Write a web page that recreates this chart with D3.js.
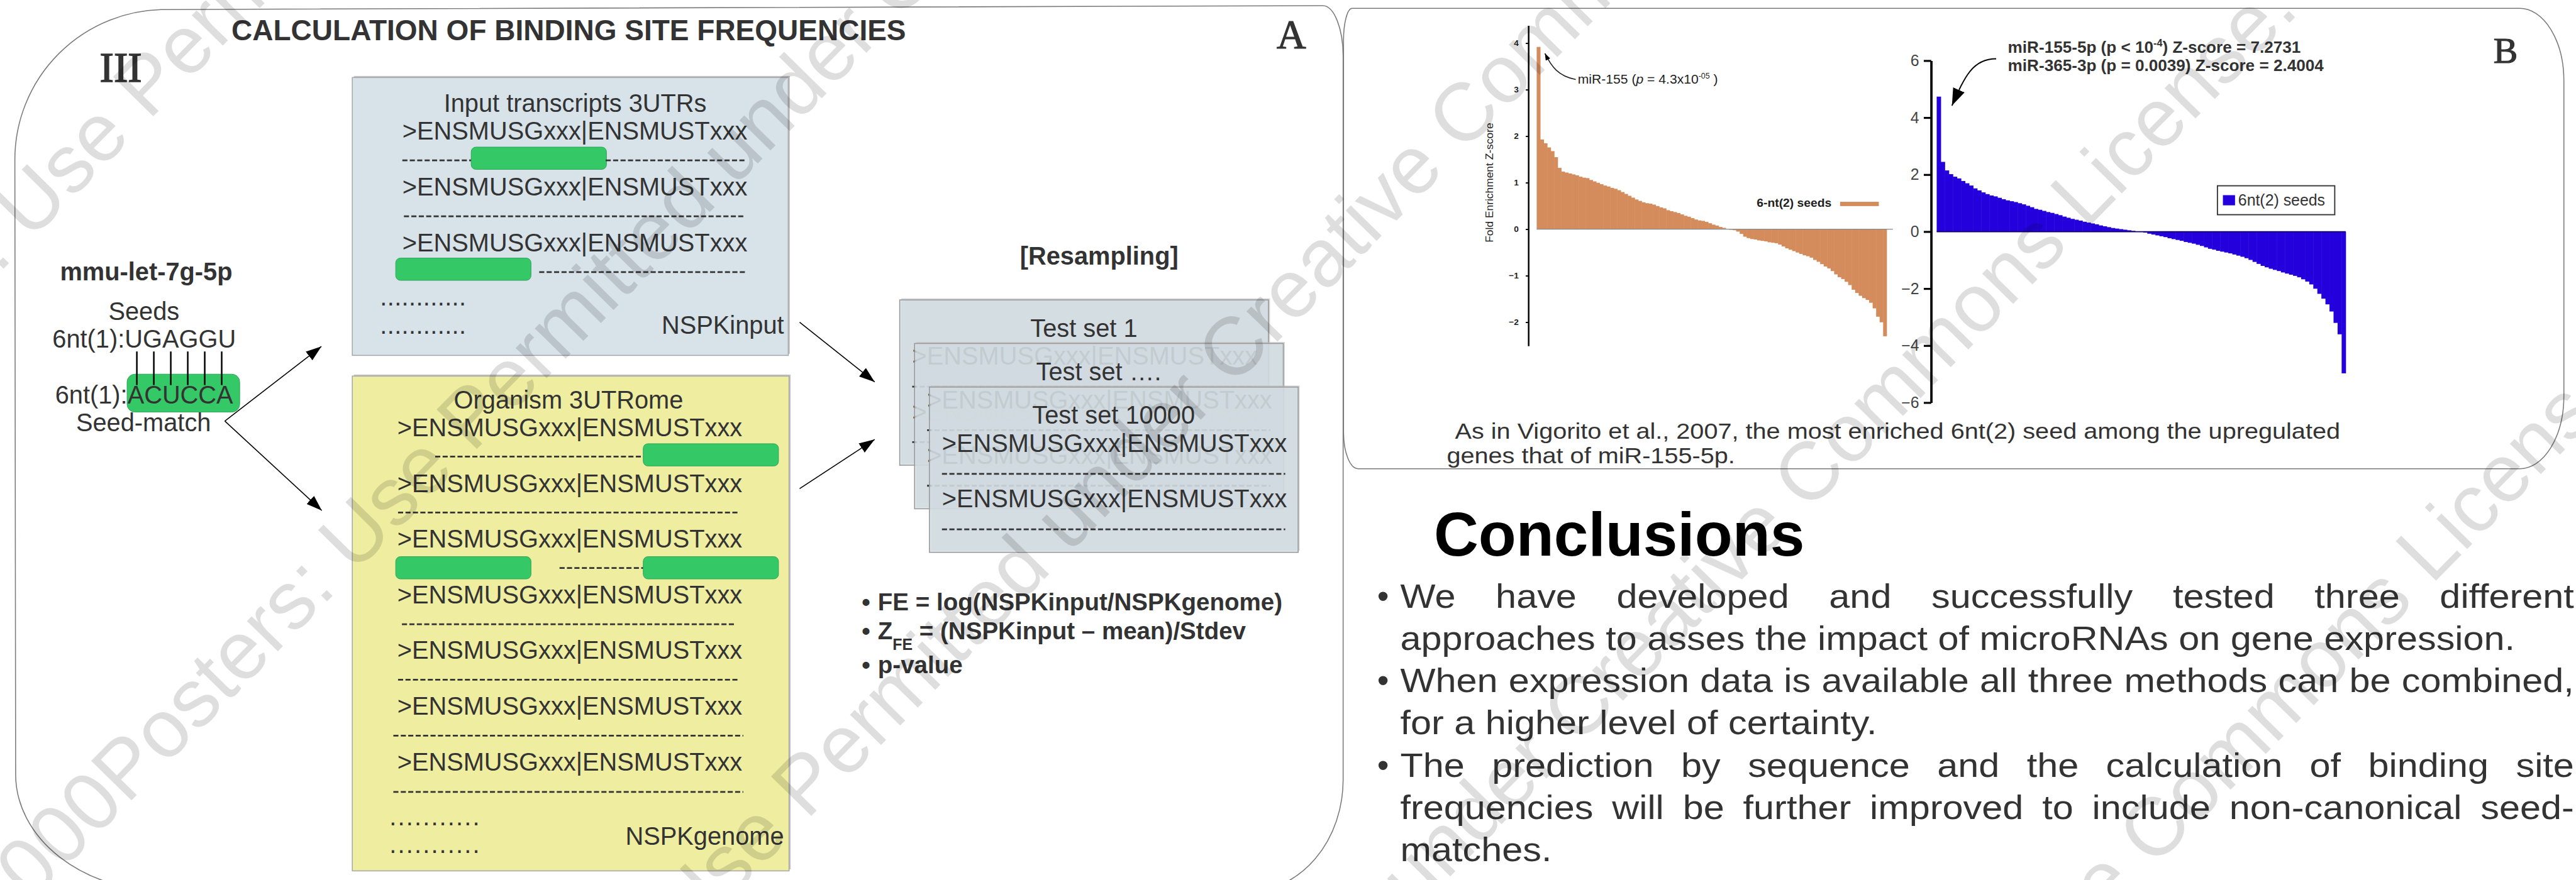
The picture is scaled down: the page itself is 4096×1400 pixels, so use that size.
<!DOCTYPE html>
<html>
<head>
<meta charset="utf-8">
<script src="https://cdn.jsdelivr.net/npm/d3@7"></script>
<style>
html, body { margin: 0; padding: 0; background: #fff; }
svg { display: block; }
text { font-family: "Liberation Sans", Arial, sans-serif; fill: #333; }
</style>
</head>
<body>
<div id="chart"></div>
<script>
// ---- data ----
// orange: fold enrichment z-score per seed, sorted (left chart)
var orangeZ = [3.92,1.93,1.85,1.76,1.68,1.55,1.32,1.24,1.22,1.2,
  1.18,1.16,1.13,1.11,1.1,1.06,1.03,1.0,0.97,0.94,
  0.92,0.89,0.87,0.84,0.8,0.76,0.72,0.68,0.64,0.61,
  0.58,0.56,0.55,0.53,0.5,0.47,0.45,0.41,0.39,0.37,
  0.35,0.32,0.29,0.27,0.24,0.21,0.19,0.18,0.16,0.13,
  0.1,0.08,0.05,0.03,0.01,-0.01,-0.02,-0.05,-0.1,-0.16,
  -0.19,-0.21,-0.22,-0.24,-0.25,-0.26,-0.28,-0.29,-0.3,-0.33,
  -0.37,-0.41,-0.44,-0.47,-0.5,-0.53,-0.56,-0.58,-0.61,-0.66,
  -0.7,-0.75,-0.8,-0.84,-0.9,-0.97,-1.03,-1.07,-1.13,-1.2,
  -1.3,-1.37,-1.43,-1.48,-1.52,-1.58,-1.7,-1.88,-2.0,-2.3]
// blue: z-score per 6nt(2) seed, sorted (right chart)
var blueZ = [4.74,2.45,2.15,2.02,1.93,1.87,1.78,1.7,1.62,1.52,
  1.45,1.38,1.32,1.27,1.24,1.19,1.14,1.1,1.07,1.04,
  1.0,0.96,0.91,0.86,0.8,0.77,0.73,0.69,0.66,0.62,
  0.58,0.53,0.49,0.45,0.42,0.39,0.35,0.32,0.29,0.26,
  0.22,0.19,0.16,0.13,0.11,0.09,0.07,0.05,0.03,0.01,
  -0.01,-0.03,-0.07,-0.1,-0.13,-0.16,-0.19,-0.23,-0.26,-0.29,
  -0.32,-0.36,-0.39,-0.42,-0.46,-0.5,-0.55,-0.6,-0.63,-0.67,
  -0.7,-0.73,-0.76,-0.8,-0.84,-0.88,-0.93,-0.99,-1.06,-1.13,
  -1.2,-1.25,-1.3,-1.34,-1.38,-1.43,-1.47,-1.51,-1.55,-1.6,
  -1.67,-1.75,-1.85,-2.0,-2.18,-2.35,-2.55,-2.8,-3.2,-3.6,-4.97]
var orangeTicks = [-2, -1, 0, 1, 2, 3, 4]
var blueTicks = [-6, -4, -2, 0, 2, 4, 6]

var entryLabel = '>ENSMUSGxxx|ENSMUSTxxx'
var testSets = ['Test set 1', 'Test set \u2026.', 'Test set 10000']
var seedLetters = ['U', 'G', 'A', 'G', 'G', 'U']
var captionLines = ['As in Vigorito et al., 2007, the most enriched 6nt(2) seed among the upregulated',
                    'genes that of miR-155-5p.']
var conclusionLines = [
  {text: 'We have developed and successfully tested three different', bullet: true, justify: true},
  {text: 'approaches to asses the impact of microRNAs on gene expression.', bullet: false, justify: false},
  {text: 'When expression data is available all three methods can be combined,', bullet: true, justify: true},
  {text: 'for a higher level of certainty.', bullet: false, justify: false},
  {text: 'The prediction by sequence and the calculation of binding site', bullet: true, justify: true},
  {text: 'frequencies will be further improved to include non-canonical seed-', bullet: false, justify: true},
  {text: 'matches.', bullet: false, justify: false}
]
var wmText = '2000Posters: Use Permitted under Creative Commons License.'

// ---- svg, drawn in the reference's own pixel space ----
var svg = d3.select('#chart').append('svg')
    .attr('width', 4096).attr('height', 1400)
    .attr('viewBox', '0 0 6588 2251')

var defs = svg.append('defs')
function marker(id, w, h) {
    defs.append('marker').attr('id', id)
        .attr('viewBox', '0 0 ' + w + ' ' + h)
        .attr('markerUnits', 'userSpaceOnUse')
        .attr('markerWidth', w).attr('markerHeight', h)
        .attr('refX', w).attr('refY', h / 2)
        .attr('orient', 'auto')
        .append('path').attr('d', 'M0,0L' + w + ',' + (h / 2) + 'L0,' + h + 'Z').attr('fill', '#000')
}
marker('arrowFlow', 40, 28)
marker('arrowBlue', 44, 32)
marker('arrowSmall', 18, 13)

// panel frames
svg.append('path')
    .attr('d', 'M423,24 L3383,14 A52,130 0 0 1 3435,144 L3435,1995 A244,286 0 0 1 3191,2281 L427,2281 A387,300 0 0 1 40,1981 L38,408 A385,384 0 0 1 423,24 Z')
    .attr('fill', 'none').attr('stroke', '#7a7a7a').attr('stroke-width', 2.5)
svg.append('path')
    .attr('d', 'M3458,21 L6444,21 A113,186 0 0 1 6557,207 L6557,1013 A113,186 0 0 1 6444,1199 L3473,1199 A37,94 0 0 1 3436,1105 L3436,103 A22,82 0 0 1 3458,21 Z')
    .attr('fill', 'none').attr('stroke', '#7a7a7a').attr('stroke-width', 2.5)

// headings
svg.append('text').attr('x', 592).attr('y', 103)
    .style('font-size', '74px').style('font-weight', 'bold')
    .text('CALCULATION OF BINDING SITE FREQUENCIES')
svg.append('text').attr('x', 255).attr('y', 208)
    .style('font-family', '"Liberation Serif", "Times New Roman", serif').style('font-size', '108px')
    .attr('stroke', '#333').attr('stroke-width', 2.5)
    .text('III')
svg.append('text').attr('x', 3265).attr('y', 123)
    .style('font-family', '"Liberation Serif", "Times New Roman", serif').style('font-size', '104px')
    .attr('stroke', '#333').attr('stroke-width', 2)
    .text('A')
svg.append('text').attr('x', 6377).attr('y', 161)
    .style('font-family', '"Liberation Serif", "Times New Roman", serif').style('font-size', '93px')
    .attr('stroke', '#333').attr('stroke-width', 2)
    .text('B')

// ---- seeds block ----
var seeds = svg.append('g').style('font-size', '64px')
seeds.append('text').attr('x', 374).attr('y', 717).attr('text-anchor', 'middle')
    .style('font-weight', 'bold').text('mmu-let-7g-5p')
seeds.append('text').attr('x', 368).attr('y', 819).attr('text-anchor', 'middle').text('Seeds')
seeds.append('text').attr('x', 134).attr('y', 889).text('6nt(1):' + seedLetters.join(''))
seeds.append('rect').attr('x', 325).attr('y', 957).attr('width', 288).attr('height', 97)
    .attr('rx', 20).attr('fill', '#34c866').attr('stroke', '#2aa055').attr('stroke-width', 1.5)
seeds.selectAll('line.pair').data(seedLetters).join('line').attr('class', 'pair')
    .attr('x1', function(d, i) { return 350 + i * 43.4 })
    .attr('x2', function(d, i) { return 350 + i * 43.4 })
    .attr('y1', 899).attr('y2', 985)
    .attr('stroke', '#000').attr('stroke-width', 4)
seeds.append('text').attr('x', 141).attr('y', 1033).text('6nt(1):ACUCCA')
seeds.append('text').attr('x', 367).attr('y', 1103).attr('text-anchor', 'middle').text('Seed-match')

// flow arrows
var arrows = [[575, 1077, 822, 886], [575, 1077, 823, 1306], [2045, 824, 2237, 977], [2045, 1250, 2237, 1124]]
svg.selectAll('line.flow').data(arrows).join('line').attr('class', 'flow')
    .attr('x1', function(d) { return d[0] }).attr('y1', function(d) { return d[1] })
    .attr('x2', function(d) { return d[2] }).attr('y2', function(d) { return d[3] })
    .attr('stroke', '#000').attr('stroke-width', 2.5)
    .attr('marker-end', 'url(#arrowFlow)')

// ---- sequence boxes ----
function dash(g, x1, x2, y) {
    g.append('line').attr('x1', x1).attr('x2', x2).attr('y1', y).attr('y2', y)
        .attr('stroke', '#333').attr('stroke-width', 4.5).attr('stroke-dasharray', '13 6')
}
function site(g, x, y) {
    g.append('rect').attr('x', x).attr('y', y).attr('width', 346).attr('height', 57)
        .attr('rx', 12).attr('fill', '#34c866').attr('stroke', '#2aa055').attr('stroke-width', 1.5)
}
function dots(g, x, y, n, sp) {
    g.append('text').attr('x', x).attr('y', y).style('letter-spacing', sp + 'px')
        .text(d3.range(n).map(function() { return '.' }).join(''))
}

// input transcripts
var inp = svg.append('g').style('font-size', '64px')
inp.append('rect').attr('x', 905).attr('y', 194).attr('width', 1115).attr('height', 711).attr('fill', '#c4c4c4')
inp.append('rect').attr('x', 901).attr('y', 198).attr('width', 1115).attr('height', 711)
    .attr('fill', '#d7e2e9').attr('stroke', '#a8a8a8').attr('stroke-width', 2.5)
inp.append('text').attr('x', 1471).attr('y', 286).attr('text-anchor', 'middle').text('Input transcripts 3UTRs')
d3.range(3).forEach(function(i) {
    inp.append('text').attr('x', 1029).attr('y', 357 + i * 143).text(entryLabel)
})
dash(inp, 1029, 1205, 410); site(inp, 1205, 376); dash(inp, 1549, 1909, 410)
dash(inp, 1033, 1905, 553)
site(inp, 1012, 660); dash(inp, 1379, 1909, 696)
dots(inp, 972, 781, 12, 0.6); dots(inp, 972, 853, 12, 0.6)
inp.append('text').attr('x', 2005).attr('y', 853).attr('text-anchor', 'end').text('NSPKinput')

// organism 3'UTRome
var org = svg.append('g').style('font-size', '64px')
org.append('rect').attr('x', 905).attr('y', 958).attr('width', 1117).attr('height', 1266).attr('fill', '#c4c4c4')
org.append('rect').attr('x', 901).attr('y', 962).attr('width', 1117).attr('height', 1266)
    .attr('fill', '#eeeda0').attr('stroke', '#a8a8a8').attr('stroke-width', 2.5)
org.append('text').attr('x', 1454).attr('y', 1045).attr('text-anchor', 'middle').text('Organism 3UTRome')
d3.range(7).forEach(function(i) {
    org.append('text').attr('x', 1016).attr('y', 1116 + i * 142.5).text(entryLabel)
})
dash(org, 1113, 1645, 1168); site(org, 1645, 1135)
dash(org, 1018, 1890, 1311)
site(org, 1012, 1424); dash(org, 1431, 1645, 1453); site(org, 1645, 1424)
dash(org, 1028, 1878, 1597)
dash(org, 1018, 1890, 1739)
dash(org, 1006, 1901, 1882)
dash(org, 1006, 1901, 2026)
dots(org, 996, 2111, 11, 3.5); dots(org, 996, 2182, 11, 3.5)
org.append('text').attr('x', 2005).attr('y', 2161).attr('text-anchor', 'end').text('NSPKgenome')

// resampling
svg.append('text').attr('x', 2811).attr('y', 677).attr('text-anchor', 'middle')
    .style('font-size', '64px').style('font-weight', 'bold').text('[Resampling]')
testSets.forEach(function(name, i) {
    var x0 = 2301 + i * 38, y0 = 767 + i * 111.5
    var g = svg.append('g').attr('transform', 'translate(' + x0 + ',' + y0 + ')').style('font-size', '64px')
    g.append('rect').attr('x', 4).attr('y', -4).attr('width', 943).attr('height', 423).attr('fill', '#bdbdbd').attr('opacity', 0.6)
    g.append('rect').attr('width', 943).attr('height', 423)
        .attr('fill', '#d3dfe6').attr('fill-opacity', 0.78)
        .attr('stroke', '#999').attr('stroke-width', 2.5)
    g.append('text').attr('x', 471).attr('y', 94).attr('text-anchor', 'middle').text(name)
    g.append('text').attr('x', 32).attr('y', 166).text(entryLabel)
    dash(g, 32, 910, 222)
    g.append('text').attr('x', 32).attr('y', 308).text(entryLabel)
    dash(g, 32, 910, 364)
})

// formulas
var fm = svg.append('g').style('font-size', '62px').style('font-weight', 'bold')
;[1561, 1636, 1722].forEach(function(y) {
    fm.append('text').attr('x', 2204).attr('y', y).text('\u2022')
})
fm.append('text').attr('x', 2245).attr('y', 1561).text('FE = log(NSPKinput/NSPKgenome)')
var zt = fm.append('text').attr('x', 2245).attr('y', 1636)
zt.append('tspan').text('Z')
zt.append('tspan').attr('dy', 26).style('font-size', '40px').text('FE')
zt.append('tspan').attr('dy', -26).text(' = (NSPKinput \u2013 mean)/Stdev')
fm.append('text').attr('x', 2245).attr('y', 1722).text('p-value')

// ---- orange chart ----
var oy = d3.scaleLinear().domain([-2.51, 4.38]).range([885, 65])
var ox = d3.scaleBand().domain(d3.range(orangeZ.length)).range([3930, 4825]).padding(0)
svg.append('g').selectAll('rect').data(orangeZ).join('rect')
    .attr('x', function(d, i) { return ox(i) })
    .attr('width', ox.bandwidth() + 0.8)
    .attr('y', function(d) { return oy(Math.max(0, d)) })
    .attr('height', function(d) { return Math.abs(oy(d) - oy(0)) })
    .attr('fill', '#d58c5c')
svg.append('line').attr('x1', 3930).attr('x2', 4841).attr('y1', oy(0)).attr('y2', oy(0))
    .attr('stroke', '#8a8a8a').attr('stroke-width', 2)
var oAxis = svg.append('g').attr('transform', 'translate(3909,0)')
    .call(d3.axisLeft(oy).tickValues(orangeTicks).tickFormat(d3.format('d'))
        .tickSizeInner(7).tickSizeOuter(0).tickPadding(18))
oAxis.select('.domain').attr('stroke', '#000').attr('stroke-width', 4)
oAxis.selectAll('.tick line').attr('stroke', '#000').attr('stroke-width', 3)
oAxis.selectAll('.tick text').style('font-size', '22px').style('font-weight', 'bold').style('fill', '#222')
svg.append('text').attr('transform', 'translate(3818,467) rotate(-90)').attr('text-anchor', 'middle')
    .style('font-size', '28px').style('fill', '#222').text('Fold Enrichment Z-score')
svg.append('text').attr('x', 4684).attr('y', 528).attr('text-anchor', 'end')
    .style('font-size', '31px').style('font-weight', 'bold').style('fill', '#222').text('6-nt(2) seeds')
svg.append('rect').attr('x', 4706).attr('y', 516).attr('width', 99).attr('height', 11).attr('fill', '#d58c5c')
var oa = svg.append('text').attr('x', 4035).attr('y', 214).style('font-size', '34px').style('fill', '#222')
oa.append('tspan').text('miR-155 (')
oa.append('tspan').style('font-style', 'italic').text('p')
oa.append('tspan').text(' = 4.3x10')
oa.append('tspan').attr('dy', -14).style('font-size', '20px').text('-05')
oa.append('tspan').attr('dy', 14).text(' )')
svg.append('path').attr('d', 'M4030,203 C3985,195 3968,170 3951,136')
    .attr('fill', 'none').attr('stroke', '#222').attr('stroke-width', 2.5)
    .attr('marker-end', 'url(#arrowSmall)')

// ---- blue chart ----
var by = d3.scaleLinear().domain([-6, 6]).range([1030, 155])
var bx = d3.scaleBand().domain(d3.range(blueZ.length)).range([4953, 5999]).padding(0)
svg.append('g').selectAll('rect').data(blueZ).join('rect')
    .attr('x', function(d, i) { return bx(i) })
    .attr('width', bx.bandwidth() + 0.8)
    .attr('y', function(d) { return by(Math.max(0, d)) })
    .attr('height', function(d) { return Math.abs(by(d) - by(0)) })
    .attr('fill', '#2300dc')
svg.append('line').attr('x1', 4953).attr('x2', 5999).attr('y1', by(0)).attr('y2', by(0))
    .attr('stroke', '#140060').attr('stroke-width', 3)
var bAxis = svg.append('g').attr('transform', 'translate(4939,0)')
    .call(d3.axisLeft(by).tickValues(blueTicks).tickFormat(d3.format('d'))
        .tickSizeInner(19).tickSizeOuter(0).tickPadding(12))
bAxis.select('.domain').attr('stroke', '#000').attr('stroke-width', 6)
bAxis.selectAll('.tick line').attr('stroke', '#000').attr('stroke-width', 5)
bAxis.selectAll('.tick text').style('font-size', '40px').style('fill', '#444')
svg.append('rect').attr('x', 5671).attr('y', 475).attr('width', 300).attr('height', 74)
    .attr('fill', '#fff').attr('stroke', '#333').attr('stroke-width', 3)
svg.append('rect').attr('x', 5685).attr('y', 499).attr('width', 31).attr('height', 26).attr('fill', '#2300dc')
svg.append('text').attr('x', 5724).attr('y', 525).style('font-size', '40px').style('fill', '#333').text('6nt(2) seeds')
var ba = svg.append('g').style('font-size', '42px').style('font-weight', 'bold')
var b1 = ba.append('text').attr('x', 5135).attr('y', 134)
b1.append('tspan').text('miR-155-5p (p < 10')
b1.append('tspan').attr('dy', -16).style('font-size', '26px').text('-4')
b1.append('tspan').attr('dy', 16).text(') Z-score = 7.2731')
ba.append('text').attr('x', 5135).attr('y', 182).text('miR-365-3p (p = 0.0039)  Z-score = 2.4004')
svg.append('path').attr('d', 'M5105,150 C5045,150 5025,195 4992,270')
    .attr('fill', 'none').attr('stroke', '#000').attr('stroke-width', 3)
    .attr('marker-end', 'url(#arrowBlue)')

// caption under the charts, squeezed to the width it has in the picture
var cap = svg.append('g').style('font-size', '55px')
var capLine = cap.append('text').attr('x', 0).attr('y', 1122).text(captionLines[0])
var capScale = 2264 / capLine.node().getComputedTextLength()
cap.attr('transform', 'translate(3721,0) scale(' + capScale + ',1)')
cap.append('text').attr('x', -21 / capScale).attr('y', 1185).text(captionLines[1])

// ---- conclusions ----
svg.append('text').attr('x', 3667).attr('y', 1422)
    .style('font-size', '158px').style('font-weight', 'bold').style('fill', '#000').text('Conclusions')
var con = svg.append('g').style('font-size', '86px')
var probe = con.append('text').text(conclusionLines[1].text)
var conScale = 2851 / probe.node().getComputedTextLength()
probe.remove()
con.attr('transform', 'translate(3581,0) scale(' + conScale + ',1)')
var fullW = 3002 / conScale
conclusionLines.forEach(function(line, i) {
    var y = 1555 + i * 108
    if (line.bullet) {
        svg.append('text').attr('x', 3522).attr('y', y).style('font-size', '86px').text('\u2022')
    }
    if (!line.justify) {
        con.append('text').attr('x', 0).attr('y', y).text(line.text)
        return
    }
    var words = line.text.split(' ')
    var nodes = words.map(function(w) { return con.append('text').attr('y', y).text(w) })
    var widths = nodes.map(function(n) { return n.node().getComputedTextLength() })
    var gap = (fullW - d3.sum(widths)) / (words.length - 1)
    var x = 0
    nodes.forEach(function(n, k) { n.attr('x', x); x += widths[k] + gap })
})

// ---- watermark, diagonal rows on top of everything ----
var wmAngle = -45.5
var rad = wmAngle * Math.PI / 180
var dx = Math.cos(rad), dy = Math.sin(rad)
var nx = -dy, ny = dx
var wmRows = [[413, -1682], [1600, -1709], [2868, -1779], [4142, -1815], [5410, -1845]]
wmRows.forEach(function(r) {
    var N = r[0] + 75, P = r[1]
    var x = nx * N + dx * P, y = ny * N + dy * P
    svg.append('text')
        .attr('transform', 'translate(' + x + ',' + y + ') rotate(' + wmAngle + ')')
        .style('font-size', '210px').style('fill', '#000').style('fill-opacity', 0.13)
        .text(wmText)
})
</script>
</body>
</html>
